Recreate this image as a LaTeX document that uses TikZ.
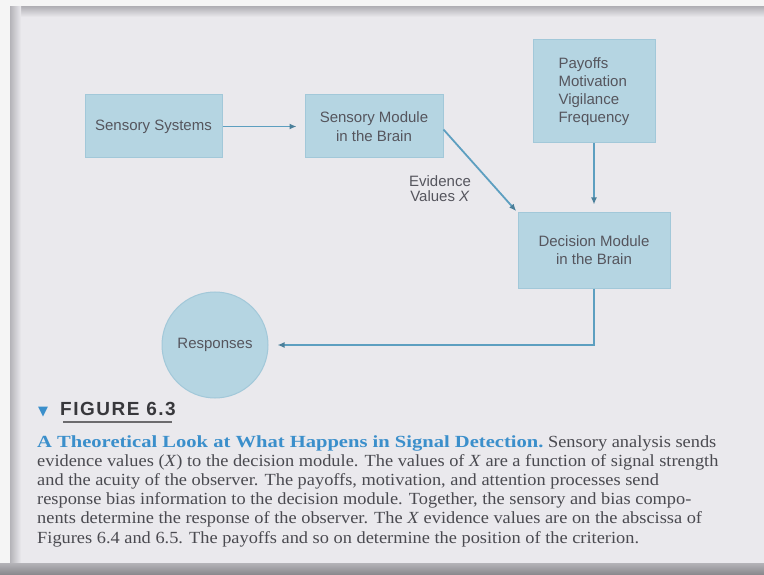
\documentclass[tikz,border=0pt]{standalone}
\usepackage{fontspec}
\usepackage{graphicx}
\setmainfont{Liberation Serif}
\setsansfont{Liberation Sans}
\newfontfamily\figfont[LetterSpace=8]{Liberation Sans}
\newfontfamily\symfont{DejaVu Sans}
\usetikzlibrary{arrows.meta}
\definecolor{paper}{HTML}{EAE9ED}
\definecolor{boxfill}{HTML}{B5D5E2}
\definecolor{boxline}{HTML}{A2C8D9}
\definecolor{arrowc}{HTML}{5D9FC0}
\definecolor{labc}{HTML}{55555D}
\definecolor{capc}{HTML}{4A4A50}
\definecolor{titlec}{HTML}{3B8FCB}
\definecolor{figc}{HTML}{38383C}
\definecolor{shadow}{HTML}{B4B3B8}
\newcommand{\capx}[1]{\scalebox{1.08}[1]{#1}}
\tikzset{
  boxnode/.style={draw=boxline, line width=1pt, fill=boxfill, rectangle,
    text=labc, font=\sffamily\fontsize{15}{18}\selectfont, align=center, inner sep=0pt},
  circnode/.style={draw=boxline, line width=1pt, fill=boxfill, circle,
    text=labc, font=\sffamily\fontsize{15}{16}\selectfont, inner sep=0pt, minimum size=106pt},
  flow/.style={draw=arrowc, line width=1.8pt, -{Latex[length=7pt,width=6pt,color=arrowc!80!black]}},
  labnode/.style={text=labc, font=\sffamily\fontsize{15}{15}\selectfont, align=center, inner sep=0pt},
  capline/.style={anchor=base west, inner sep=0pt, text=capc, font=\fontsize{17}{19}\selectfont}
}
\begin{document}
\begin{tikzpicture}[x=1pt,y=-1pt]
\useasboundingbox (0,0) rectangle (764,575);
% paper and frame
\fill[paper] (0,0) rectangle (764,575);
\fill[white!96!black] (0,0) rectangle (764,7);
\fill[white!96!black] (0,0) rectangle (10,575);
\shade[top color=shadow, bottom color=paper] (10,7) rectangle (764,17);
\shade[left color=shadow, right color=paper] (10,7) rectangle (21,563);
\shade[top color=shadow, bottom color=shadow!75!black] (0,563) rectangle (764,575);

% nodes
\node[boxnode, minimum width=137pt, minimum height=63pt] (ss) at (153.5,126.5) {Sensory Systems};
\node[boxnode, minimum width=138pt, minimum height=63pt, font=\sffamily\fontsize{15}{19}\selectfont] (sm) at (374,126.5) {Sensory Module\\in the Brain};
\node[boxnode, minimum width=122pt, minimum height=103pt, align=left] (pay) at (594,91.5) {Payoffs\\Motivation\\Vigilance\\Frequency};
\node[boxnode, minimum width=152pt, minimum height=75pt] (dec) at (594,250.5) {Decision Module\\in the Brain};
\node[circnode] (resp) at (215,345) {Responses};
\node[labnode] (ev) at (440,189) {Evidence\\Values \textit{X}};

% connectors
\draw[flow, shorten >=8pt] (ss.east) -- (sm.west);
\draw[flow, shorten >=2pt] ([yshift=-3pt]sm.east) -- (dec.north west);
\draw[flow, shorten >=8pt] (pay.south) -- (dec.north);
\coordinate (turn) at (dec.south |- resp.east);
\draw[flow, shorten >=9pt] (dec.south) -- (turn) -- (resp.east);

% caption
\node[anchor=base west, inner sep=0pt, text=figc, font=\figfont\bfseries\fontsize{19}{20}\selectfont] (fig) at (38,415) {{\symfont\color{titlec}\fontsize{13}{15}\selectfont ▼}\hspace{12pt}FIGURE 6.3};
\draw[shadow!60!black, line width=1.2pt] ([xshift=25pt,yshift=-7pt]fig.base west) -- ([xshift=-4pt,yshift=-7pt]fig.base east);
\node[capline] (c1) at (37,447) {\capx{\textcolor{titlec}{\scalebox{1.12}[1]{\textbf{A Theoretical Look at What Happens in Signal Detection.}}} Sensory analysis sends}};
\node[capline] (c2) at (37,466.2) {\capx{evidence values (\textit{X}) to the decision module. The values of \textit{X} are a function of signal strength}};
\node[capline] (c3) at (37,485.4) {\capx{and the acuity of the observer. The payoffs, motivation, and attention processes send}};
\node[capline] (c4) at (37,504.6) {\capx{response bias information to the decision module. Together, the sensory and bias compo-}};
\node[capline] (c5) at (37,523.8) {\capx{nents determine the response of the observer. The \textit{X} evidence values are on the abscissa of}};
\node[capline] (c6) at (37,543) {\capx{Figures 6.4 and 6.5. The payoffs and so on determine the position of the criterion.}};
\end{tikzpicture}
\end{document}
